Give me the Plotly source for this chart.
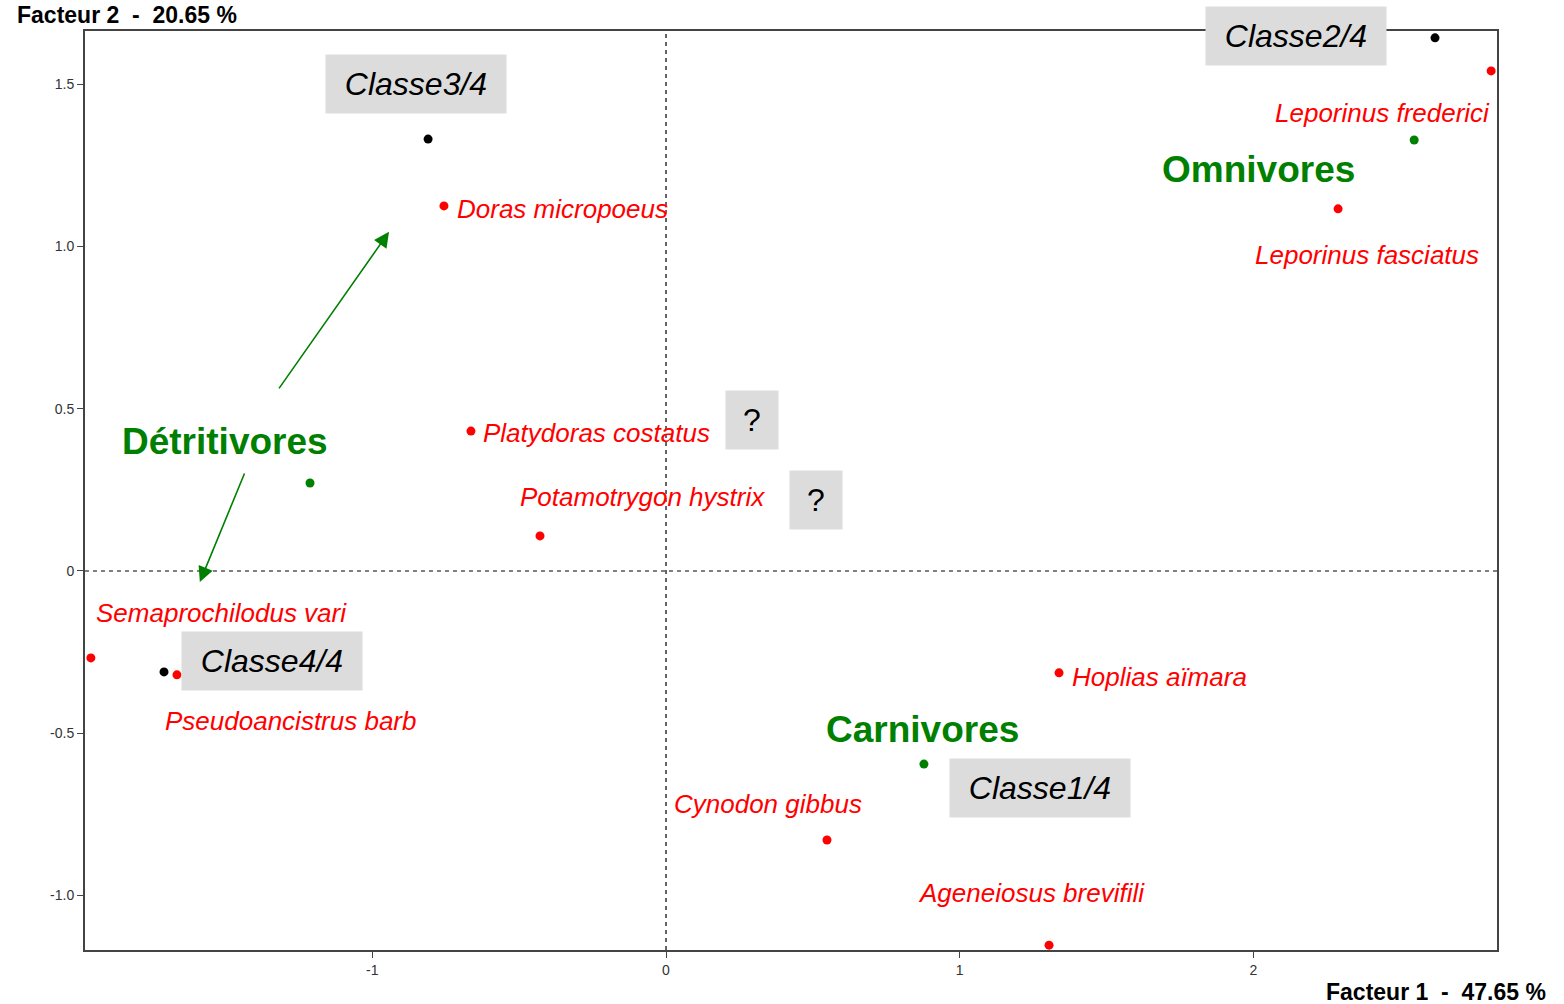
import plotly.graph_objects as go

# Species (factor scores on axes 1 and 2)
species = ["Leporinus frederici", "Leporinus fasciatus", "Doras micropoeus",
           "Platydoras costatus", "Potamotrygon hystrix", "Semaprochilodus vari",
           "Pseudoancistrus barb", "Hoplias aïmara", "Cynodon gibbus",
           "Ageneiosus brevifili"]
species_f1 = [2.809, 2.288, -0.756, -0.664, -0.429, -1.958, -1.665, 1.338, 0.548, 1.304]
species_f2 = [1.541, 1.116, 1.125, 0.431, 0.108, -0.268, -0.320, -0.314, -0.829, -1.153]

# Class centroids
classes = ["Classe2/4", "Classe3/4", "Classe4/4"]
class_f1 = [2.618, -0.810, -1.709]
class_f2 = [1.643, 1.331, -0.311]

# Diet groups
diets = ["Omnivores", "Détritivores", "Carnivores"]
diet_f1 = [2.547, -1.212, 0.878]
diet_f2 = [1.328, 0.271, -0.595]

x_ticks = [-1, 0, 1, 2]
y_ticks = [-1.0, -0.5, 0, 0.5, 1.0, 1.5]
y_tick_text = ["-1.0", "-0.5", "0", "0.5", "1.0", "1.5"]

RED = "#ff0000"
GREEN = "#008000"
BOX = "#dcdcdc"
FONT = "Liberation Sans, Arial, sans-serif"

fig = go.Figure()
fig.add_trace(go.Scatter(x=class_f1, y=class_f2, mode="markers",
                         marker=dict(color="black", size=9), hoverinfo="skip"))
fig.add_trace(go.Scatter(x=diet_f1, y=diet_f2, mode="markers",
                         marker=dict(color=GREEN, size=9), hoverinfo="skip"))
fig.add_trace(go.Scatter(x=species_f1, y=species_f2, mode="markers",
                         marker=dict(color=RED, size=9), hoverinfo="skip"))

# Dashed origin lines
fig.add_shape(type="line", x0=0, x1=0, y0=0, y1=1, xref="x", yref="y domain",
              line=dict(color="black", width=1.2, dash="4px,4px"), layer="below")
fig.add_shape(type="line", x0=0, x1=1, y0=0, y1=0, xref="x domain", yref="y",
              line=dict(color="black", width=1.2, dash="4px,4px"), layer="below")

annotations = []

# Species labels
sp_label_pos = [(2.440, 1.411), (2.387, 0.974), (-0.354, 1.116), (-0.238, 0.425),
                (-0.080, 0.228), (-1.512, -0.129), (-1.279, -0.462), (1.679, -0.327),
                (0.346, -0.718), (1.243, -0.992)]
for name, (lx, ly) in zip(species, sp_label_pos):
    annotations.append(dict(x=lx, y=ly, text="<i>" + name + "</i>", showarrow=False,
                            font=dict(family=FONT, size=26, color=RED),
                            xanchor="center", yanchor="middle"))

# Diet group labels
diet_label_pos = [(2.016, 1.236), (-1.503, 0.398), (0.872, -0.490)]
for name, (lx, ly) in zip(diets, diet_label_pos):
    annotations.append(dict(x=lx, y=ly, text="<b>" + name + "</b>", showarrow=False,
                            font=dict(family=FONT, size=37, color=GREEN),
                            xanchor="center", yanchor="middle"))

# Class boxes
class_box_pos = {"Classe2/4": (2.145, 1.649), "Classe3/4": (-0.851, 1.501),
                 "Classe4/4": (-1.342, -0.276), "Classe1/4": (1.273, -0.670)}
for name, (bx, by) in class_box_pos.items():
    annotations.append(dict(x=bx, y=by, text="<i>" + name + "</i>", showarrow=False,
                            font=dict(family=FONT, size=32, color="black"),
                            bgcolor=BOX, width=176, height=54, borderpad=2,
                            align="center", valign="middle",
                            xanchor="center", yanchor="middle"))

# Unassigned markers
for bx, by in [(0.293, 0.465), (0.511, 0.219)]:
    annotations.append(dict(x=bx, y=by, text="?", showarrow=False,
                            font=dict(family=FONT, size=32, color="black"),
                            bgcolor=BOX, width=48, height=54, borderpad=2,
                            align="center", valign="middle",
                            xanchor="center", yanchor="middle"))

# Arrows from the Détritivores label
for (tx, ty), (hx, hy) in [((-1.321, 0.558), (-0.943, 1.045)),
                           ((-1.433, 0.305), (-1.587, -0.034))]:
    annotations.append(dict(x=hx, y=hy, ax=tx, ay=ty, xref="x", yref="y",
                            axref="x", ayref="y", text="", showarrow=True,
                            arrowhead=2, arrowsize=1.9, arrowwidth=1.6,
                            arrowcolor=GREEN))

# Axis titles
annotations.append(dict(x=-70 / 1412, y=1 + 16 / 919, xref="paper", yref="paper",
                        text="<b>Facteur 2\u00a0 -\u00a0 20.65 %</b>", showarrow=False,
                        font=dict(family=FONT, size=23, color="black"),
                        xanchor="left", yanchor="middle"))
annotations.append(dict(x=1 + 51 / 1412, y=-42 / 919, xref="paper", yref="paper",
                        text="<b>Facteur 1\u00a0 -\u00a0 47.65 %</b>", showarrow=False,
                        font=dict(family=FONT, size=23, color="black"),
                        xanchor="right", yanchor="middle"))

axis_common = dict(showgrid=False, zeroline=False, showline=True, mirror=True,
                   linecolor="#444444", linewidth=2, ticks="outside", ticklen=6,
                   tickcolor="#444444", tickwidth=1,
                   tickfont=dict(family=FONT, size=14, color="#333333"))

fig.update_layout(
    width=1564, height=1004,
    margin=dict(l=85, r=67, t=31, b=54),
    paper_bgcolor="white", plot_bgcolor="white",
    showlegend=False,
    annotations=annotations,
    xaxis=dict(range=[-1.978, 2.829], tickvals=x_ticks,
               ticktext=[str(v) for v in x_ticks], **axis_common),
    yaxis=dict(range=[-1.168, 1.664], tickvals=y_ticks, ticktext=y_tick_text,
               **axis_common),
)

fig.write_html("out.html")
